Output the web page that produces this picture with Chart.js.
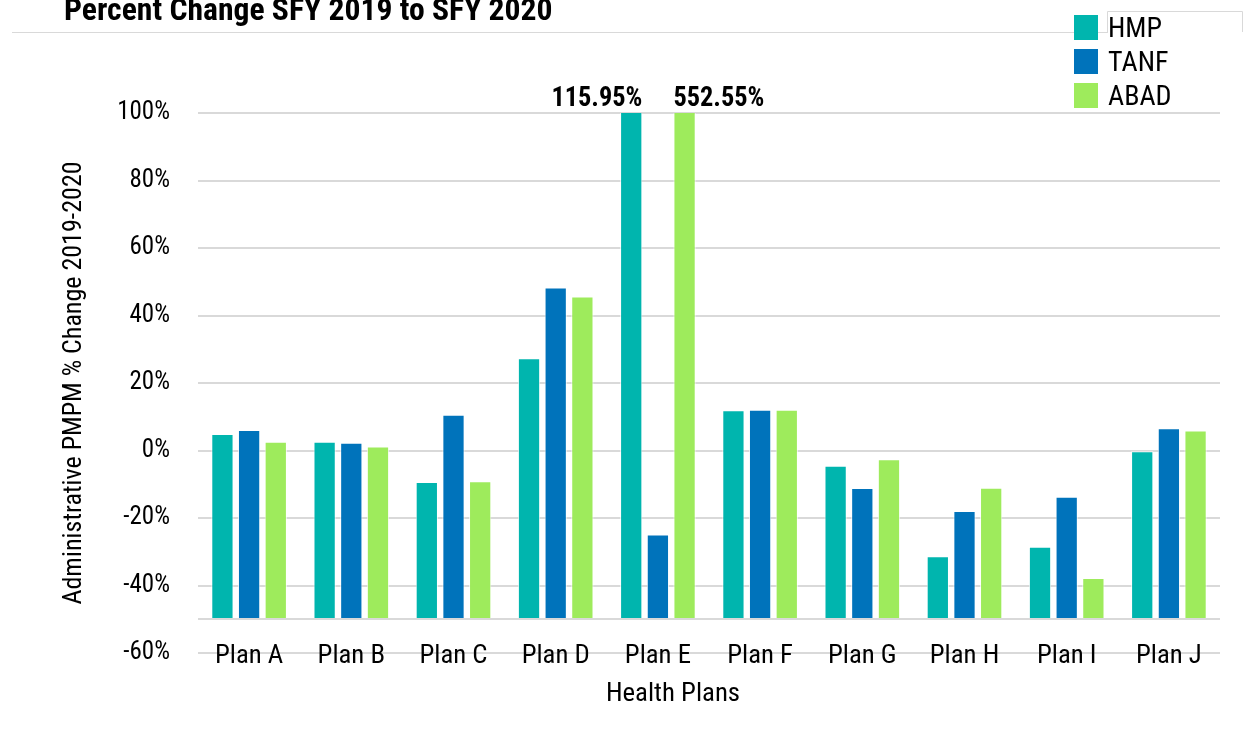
<!DOCTYPE html>
<html>
<head>
<meta charset="utf-8">
<script src="https://cdn.jsdelivr.net/npm/chart.js@4"></script>
<style>
  html, body { margin: 0; padding: 0; background: #fff; overflow: hidden; }
  #wrap { position: relative; width: 1248px; height: 740px; }
  #chart { position: absolute; left: 0; top: 0; }
  #title {
    position: absolute; left: 64px; top: -9px;
    font: bold 31px 'Roboto Condensed', Roboto, sans-serif;
    color: #000; white-space: nowrap; transform-origin: 0 0;
  }
</style>
</head>
<body>
<div id="wrap">
  <canvas id="chart" width="1248" height="740"></canvas>
  <div id="title">Percent Change SFY 2019 to SFY 2020</div>
</div>
<script>
const plans = ['Plan A', 'Plan B', 'Plan C', 'Plan D', 'Plan E', 'Plan F', 'Plan G', 'Plan H', 'Plan I', 'Plan J'];
const hmp  = [4.9, 2.6, -9.3, 27.3, 115.95, 11.9, -4.5, -31.3, -28.5, -0.2];
const tanf = [6.1, 2.3, 10.6, 48.3, -24.9, 12.1, -11.1, -17.9, -13.7, 6.6];
const abad = [2.6, 1.2, -9.1, 45.6, 552.55, 12.1, -2.6, -11.0, -37.8, 5.9];
const seriesNames = ['HMP', 'TANF', 'ABAD'];
const seriesColors = ['#00b5ae', '#0073bb', '#9eeb5c'];

const axisMin = -60, axisMax = 100, barBase = -50;
const FONT = "'Roboto Condensed', Roboto, sans-serif";

// squeeze the title to the narrow width of the original
const titleEl = document.getElementById('title');
titleEl.style.transform = 'scaleX(' + (489 / titleEl.offsetWidth) + ')';

// bars hang from the -50% crossing line, like the original axis
const floating = vals => vals.map(v => [barBase, v]);

function narrowText(ctx, text, x, y, k) {
  ctx.save();
  ctx.translate(x, y);
  ctx.scale(k, 1);
  ctx.fillText(text, 0, 0);
  ctx.restore();
}

const extras = {
  id: 'extras',
  afterDatasetsDraw(chart) {
    const { ctx, scales: { x, y } } = chart;
    // axis crossing line
    ctx.save();
    ctx.strokeStyle = '#d9d9d9';
    ctx.lineWidth = 2;
    const baseY = Math.round(y.getPixelForValue(barBase));
    ctx.beginPath();
    ctx.moveTo(x.left, baseY);
    ctx.lineTo(x.right, baseY);
    ctx.stroke();

    // labels for bars that run off the top
    ctx.font = 'bold 28px ' + FONT;
    ctx.fillStyle = '#000';
    ctx.textBaseline = 'alphabetic';
    const topY = y.getPixelForValue(axisMax) - 7;
    chart.data.datasets.forEach((ds, di) => {
      const meta = chart.getDatasetMeta(di);
      ds.data.forEach((d, i) => {
        if (d[1] > axisMax) {
          const bar = meta.data[i];
          if (di === 0) {
            ctx.textAlign = 'right';
            narrowText(ctx, d[1].toFixed(2) + '%', bar.x + bar.width / 2, topY, 0.94);
          } else {
            ctx.textAlign = 'left';
            narrowText(ctx, d[1].toFixed(2) + '%', bar.x - bar.width / 2, topY, 0.94);
          }
        }
      });
    });

    // category labels sit on the -60% line (the scale would clip them)
    ctx.font = '25px ' + FONT;
    ctx.textAlign = 'center';
    chart.data.labels.forEach((lab, i) => {
      narrowText(ctx, lab, x.getPixelForValue(i), 663, 1.07);
    });
    ctx.restore();
  },
  afterDraw(chart) {
    const { ctx } = chart;
    ctx.save();
    // thin rule under the title and the legend frame
    ctx.strokeStyle = '#d9d9d9';
    ctx.lineWidth = 1;
    ctx.beginPath();
    ctx.moveTo(12, 32.5); ctx.lineTo(1108, 32.5);
    ctx.moveTo(1107.5, 32); ctx.lineTo(1107.5, 11.5); ctx.lineTo(1242.5, 11.5); ctx.lineTo(1242.5, 32);
    ctx.stroke();

    // legend
    ctx.font = '28px ' + FONT;
    ctx.textAlign = 'left';
    ctx.textBaseline = 'alphabetic';
    seriesNames.forEach((name, i) => {
      const top = 15 + i * 34;
      ctx.fillStyle = seriesColors[i];
      ctx.fillRect(1074, top, 24, 25);
      ctx.fillStyle = '#000';
      ctx.fillText(name, 1108, top + 22);
    });

    // x axis title
    ctx.font = '26px ' + FONT;
    ctx.textAlign = 'center';
    narrowText(ctx, 'Health Plans', 673, 701, 1.03);
    ctx.restore();
  }
};

new Chart(document.getElementById('chart'), {
  type: 'bar',
  data: {
    labels: plans,
    datasets: [
      { label: seriesNames[0], data: floating(hmp),  backgroundColor: seriesColors[0] },
      { label: seriesNames[1], data: floating(tanf), backgroundColor: seriesColors[1] },
      { label: seriesNames[2], data: floating(abad), backgroundColor: seriesColors[2] }
    ].map(ds => Object.assign(ds, {
      borderColor: 'rgba(255,255,255,0.75)',
      borderWidth: 1,
      borderSkipped: false,
      categoryPercentage: 0.783,
      barPercentage: 0.835
    }))
  },
  options: {
    responsive: false,
    animation: false,
    layout: { padding: { top: 113, right: 28, bottom: 31, left: 0 } },
    plugins: {
      legend: { display: false },
      tooltip: { enabled: false }
    },
    scales: {
      x: {
        grid: { display: false, drawTicks: false },
        border: { display: false },
        ticks: { display: false },
        afterFit: s => { s.height = 56; }
      },
      y: {
        min: axisMin,
        max: axisMax,
        grid: { color: '#d9d9d9', lineWidth: 2, drawTicks: false },
        border: { display: false },
        ticks: { stepSize: 20, color: '#000', padding: 28, font: { family: FONT, size: 25 }, callback: v => v + '%' },
        title: {
          display: true,
          text: 'Administrative PMPM % Change 2019-2020',
          color: '#000',
          font: { family: FONT, size: 26 },
          padding: { top: 59, bottom: 0 }
        },
        afterFit: s => { s.width = 198; }
      }
    }
  },
  plugins: [extras]
});
</script>
</body>
</html>
